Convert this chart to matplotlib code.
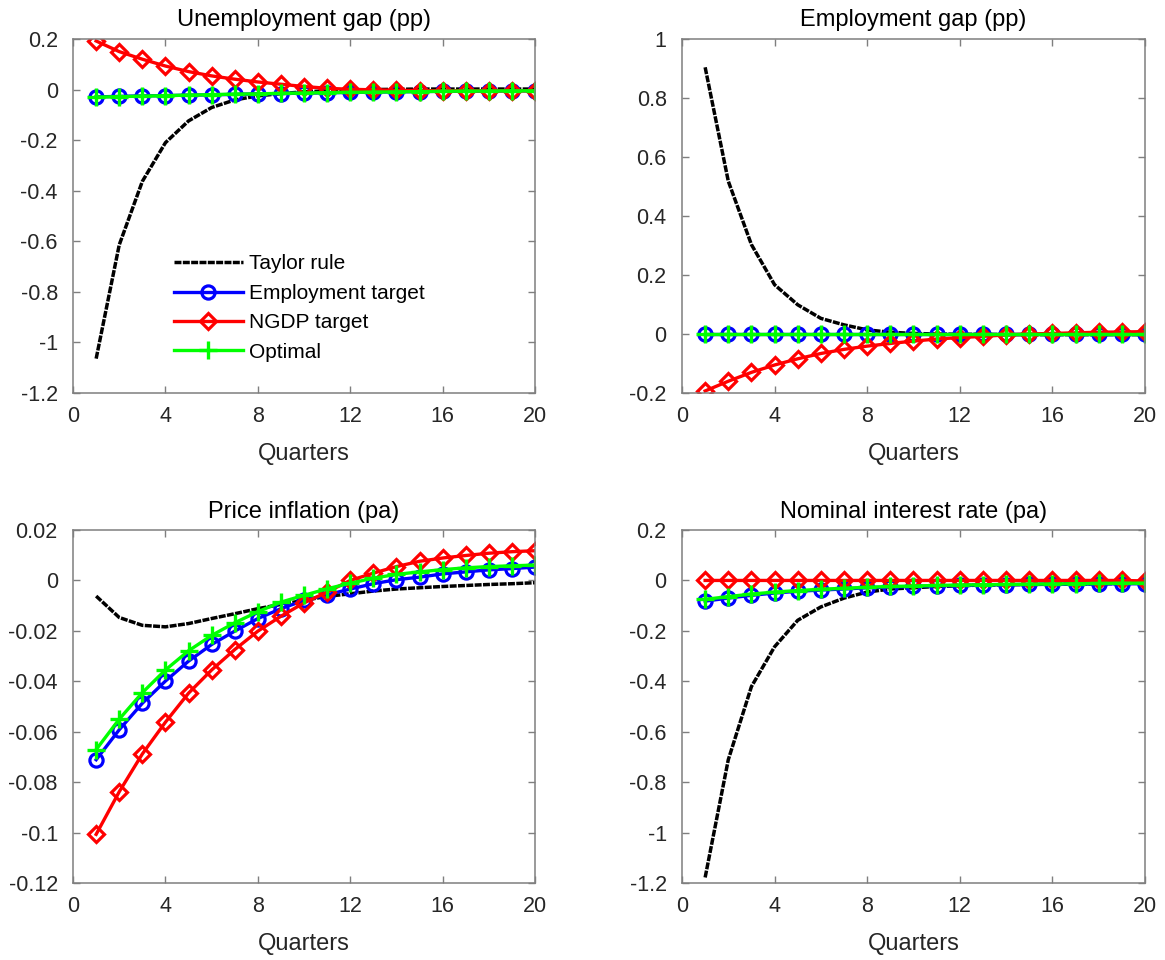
import numpy as np
import matplotlib
matplotlib.use("Agg")
import matplotlib.pyplot as plt

plt.rcParams['font.family'] = ['Liberation Sans', 'DejaVu Sans']

quarters = np.arange(1, 21)

# Unemployment gap (pp)
unemp_taylor = [-1.064, -0.614, -0.363, -0.210, -0.124, -0.071, -0.041, -0.025, -0.016, -0.009,
                -0.005, -0.002, 0.000, 0.001, 0.002, 0.002, 0.002, 0.002, 0.002, 0.002]
unemp_emp = [-0.029, -0.027, -0.025, -0.024, -0.022, -0.021, -0.019, -0.017, -0.016, -0.014,
             -0.013, -0.011, -0.010, -0.009, -0.008, -0.007, -0.007, -0.006, -0.005, -0.005]
unemp_ngdp = [0.192, 0.150, 0.120, 0.093, 0.071, 0.054, 0.041, 0.030, 0.021, 0.012,
              0.005, 0.001, -0.001, -0.003, -0.004, -0.005, -0.005, -0.005, -0.005, -0.005]
unemp_opt = [-0.030, -0.028, -0.026, -0.024, -0.022, -0.020, -0.018, -0.017, -0.015, -0.014,
             -0.012, -0.011, -0.010, -0.009, -0.008, -0.007, -0.006, -0.006, -0.005, -0.005]

# Employment gap (pp)
emp_taylor = [0.904, 0.518, 0.303, 0.167, 0.099, 0.053, 0.031, 0.014, 0.006, 0.002,
              0.000, -0.001, -0.001, -0.002, -0.002, -0.002, -0.002, -0.002, -0.002, -0.002]
emp_emp = [0.0] * 20
emp_ngdp = [-0.193, -0.160, -0.130, -0.105, -0.084, -0.066, -0.052, -0.041, -0.032, -0.024,
            -0.017, -0.012, -0.008, -0.003, 0.000, 0.002, 0.004, 0.006, 0.007, 0.008]
emp_opt = [0.0] * 20

# Price inflation (pa)
infl_taylor = [-0.0062, -0.0147, -0.0178, -0.0184, -0.0171, -0.0151, -0.0132, -0.0112, -0.0095, -0.0079,
               -0.0063, -0.0053, -0.0042, -0.0034, -0.0029, -0.0024, -0.0020, -0.0016, -0.0013, -0.0009]
infl_emp = [-0.0711, -0.0592, -0.0487, -0.0399, -0.0320, -0.0254, -0.0201, -0.0151, -0.0112, -0.0079,
            -0.0057, -0.0034, -0.0013, 0.0003, 0.0013, 0.0026, 0.0034, 0.0042, 0.0047, 0.0053]
infl_ngdp = [-0.1007, -0.0838, -0.0688, -0.0562, -0.0447, -0.0355, -0.0274, -0.0201, -0.0142, -0.0089,
             -0.0046, 0.0000, 0.0029, 0.0055, 0.0076, 0.0089, 0.0099, 0.0108, 0.0114, 0.0118]
infl_opt = [-0.0671, -0.0550, -0.0445, -0.0355, -0.0279, -0.0218, -0.0168, -0.0124, -0.0086, -0.0059,
            -0.0033, -0.0011, 0.0009, 0.0024, 0.0034, 0.0043, 0.0050, 0.0055, 0.0058, 0.0061]

# Nominal interest rate (pa)
rate_taylor = [-1.178, -0.711, -0.421, -0.263, -0.158, -0.105, -0.070, -0.046, -0.034, -0.029,
               -0.024, -0.021, -0.018, -0.017, -0.016, -0.015, -0.014, -0.013, -0.012, -0.011]
rate_emp = [-0.082, -0.070, -0.059, -0.050, -0.043, -0.038, -0.034, -0.029, -0.026, -0.024,
            -0.021, -0.020, -0.018, -0.017, -0.016, -0.015, -0.015, -0.014, -0.013, -0.013]
rate_ngdp = [0.0] * 19 + [-0.002]
rate_opt = [-0.075, -0.064, -0.054, -0.046, -0.040, -0.035, -0.031, -0.027, -0.024, -0.022,
            -0.020, -0.018, -0.017, -0.016, -0.015, -0.014, -0.013, -0.012, -0.011, -0.011]

panels = [
    ('Unemployment gap (pp)', [unemp_taylor, unemp_emp, unemp_ngdp, unemp_opt],
     (-1.2, 0.2), [-1.2, -1, -0.8, -0.6, -0.4, -0.2, 0, 0.2]),
    ('Employment gap (pp)', [emp_taylor, emp_emp, emp_ngdp, emp_opt],
     (-0.2, 1.0), [-0.2, 0, 0.2, 0.4, 0.6, 0.8, 1]),
    ('Price inflation (pa)', [infl_taylor, infl_emp, infl_ngdp, infl_opt],
     (-0.12, 0.02), [-0.12, -0.1, -0.08, -0.06, -0.04, -0.02, 0, 0.02]),
    ('Nominal interest rate (pa)', [rate_taylor, rate_emp, rate_ngdp, rate_opt],
     (-1.2, 0.2), [-1.2, -1, -0.8, -0.6, -0.4, -0.2, 0, 0.2]),
]

labels = ['Taylor rule', 'Employment target', 'NGDP target', 'Optimal']

def fmt(v):
    s = ('%g' % v)
    return '0' if s in ('-0', '0') else s

fig = plt.figure(figsize=(11.65, 9.6), dpi=100)
boxes = [
    [0.0627, 0.5906, 0.3966, 0.3688],
    [0.5854, 0.5906, 0.3974, 0.3688],
    [0.0627, 0.0802, 0.3966, 0.3677],
    [0.5854, 0.0802, 0.3974, 0.3677],
]

spine_col = '#7f7f7f'
txt_col = '#262626'

for k, (title, series, ylim, yticks) in enumerate(panels):
    ax = fig.add_axes(boxes[k])
    taylor, emp, ngdp, opt = series
    ax.plot(quarters, taylor, color='k', lw=2.5, ls=(0, (2.0, 0.4)), label=labels[0])
    ax.plot(quarters, emp, color='b', lw=2.4, marker='o', ms=9.5, mfc='none', mew=2.3, label=labels[1])
    ax.plot(quarters, ngdp, color='r', lw=2.4, marker='D', ms=8.5, mfc='none', mew=2.3, label=labels[2])
    ax.plot(quarters, opt, color='#00ff00', lw=2.4, marker='+', ms=13, mew=2.4, label=labels[3])

    ax.set_xlim(0, 20)
    ax.set_ylim(*ylim)
    ax.set_xticks([0, 4, 8, 12, 16, 20])
    ax.set_yticks(yticks)
    ax.set_yticklabels([fmt(v) for v in yticks])
    ax.tick_params(direction='in', top=True, right=True, length=5, width=1,
                   color=spine_col, labelsize=15.5, labelcolor=txt_col)
    ax.tick_params(axis='x', pad=9)
    ax.tick_params(axis='y', pad=11)
    for sp in ax.spines.values():
        sp.set_color(spine_col)
        sp.set_linewidth(1.1)
    ax.set_title(title, fontsize=17, color='k', pad=9)
    ax.set_xlabel('Quarters', fontsize=17, color=txt_col, labelpad=12)

    if k == 0:
        ax.legend(loc='upper left', bbox_to_anchor=(0.2, 0.415), frameon=False,
                  fontsize=15, handlelength=3.3, handletextpad=0.3,
                  labelspacing=0.5, borderaxespad=0)

fig.savefig('out.png', dpi=100)
